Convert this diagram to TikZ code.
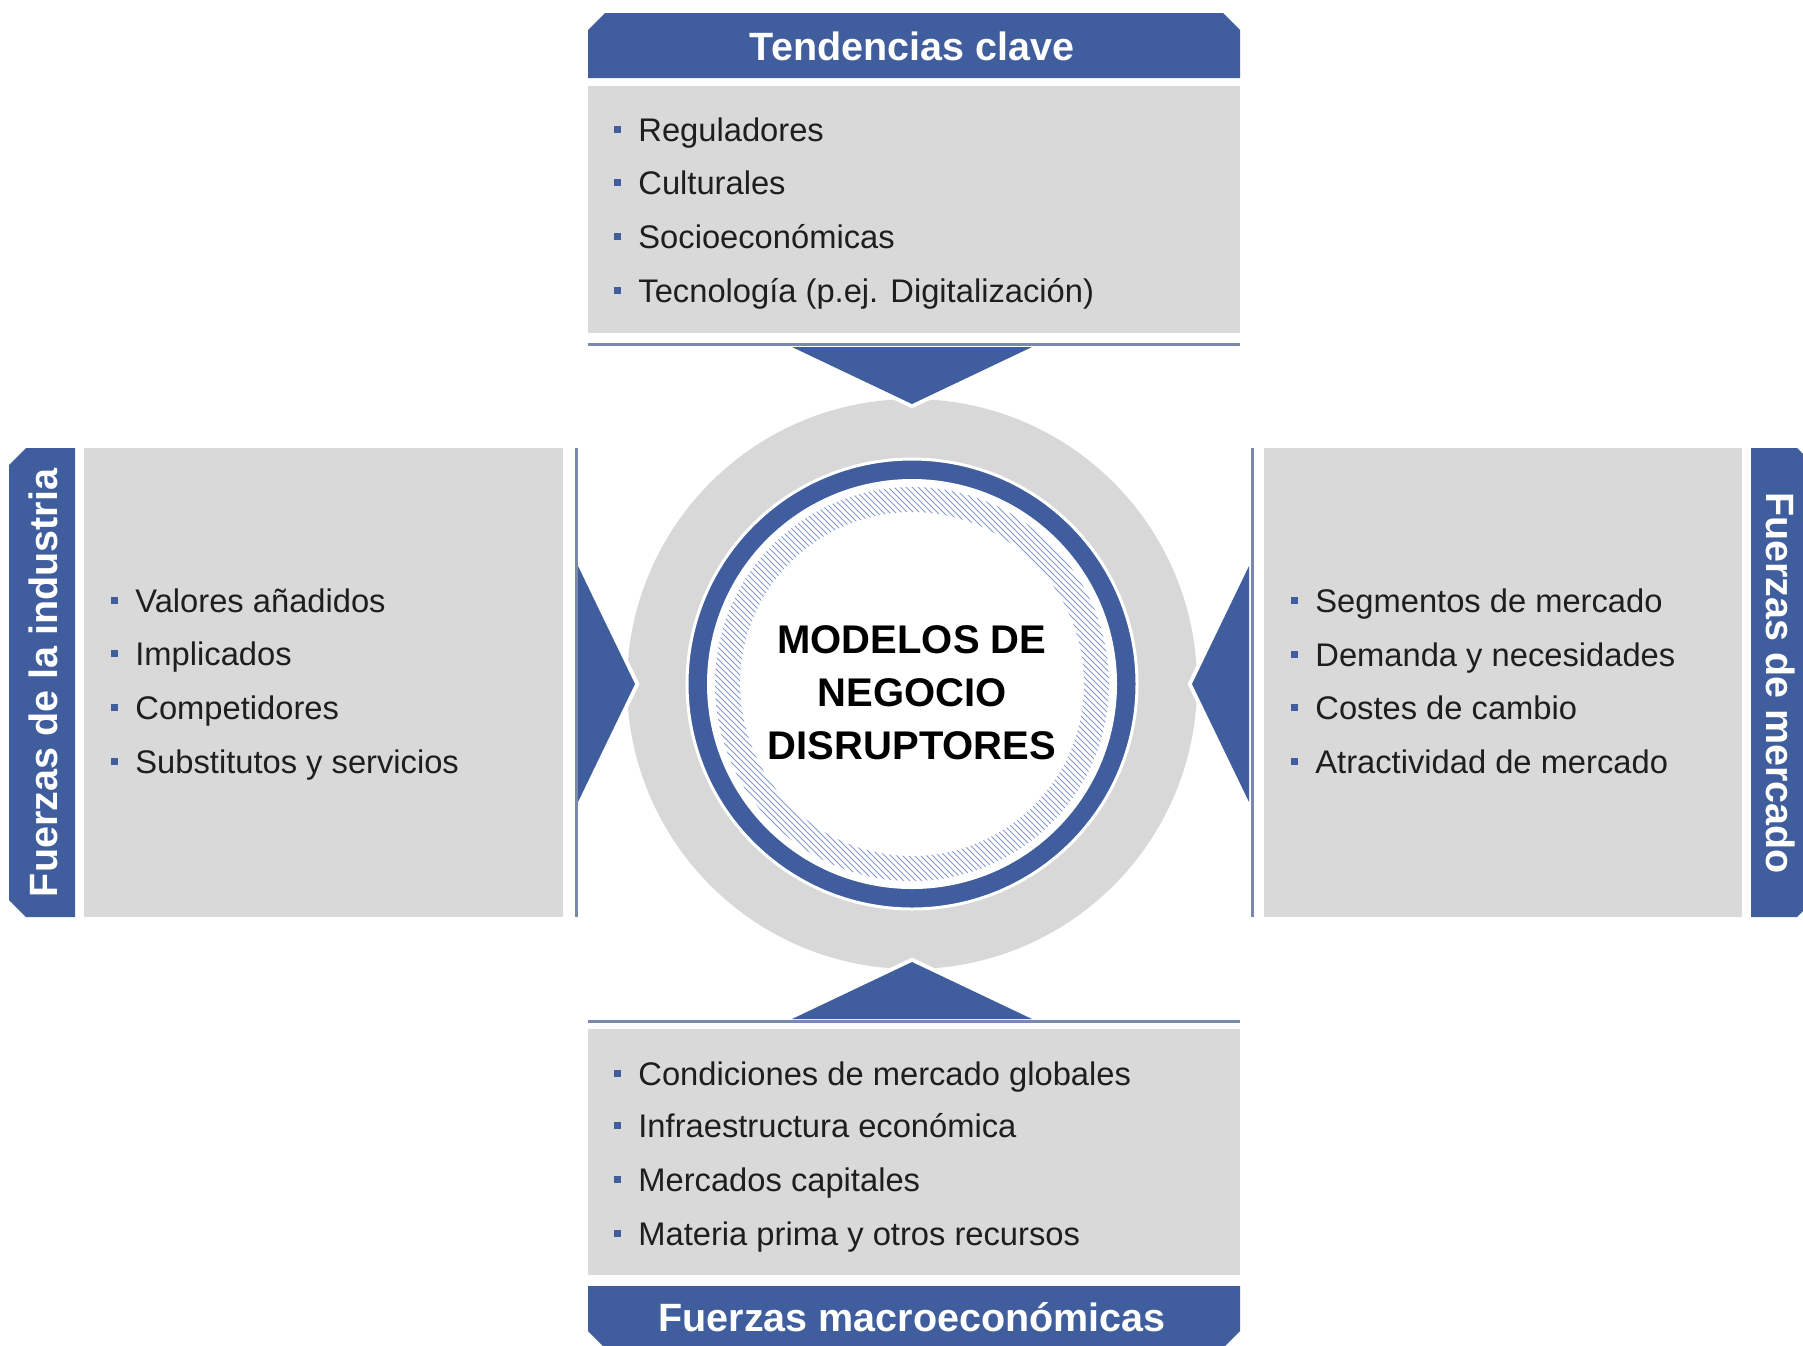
\documentclass[tikz,border=0pt]{standalone}
\usepackage{fontspec}
\setmainfont{Liberation Sans}
\usetikzlibrary{patterns}

\definecolor{headblue}{RGB}{64,94,158}
\definecolor{boxgray}{RGB}{217,217,217}
\definecolor{ringgray}{RGB}{216,216,216}
\definecolor{rimline}{RGB}{122,136,172}
\definecolor{hatchblue}{RGB}{132,155,204}
\definecolor{textgray}{RGB}{30,30,30}

\newcommand{\bul}{\textcolor{headblue}{\rule[3.8pt]{3.5pt}{3.5pt}}\hspace{8.5pt}}

\begin{document}
\begin{tikzpicture}[x=0.5pt, y=-0.5pt,
    listitem/.style={anchor=base west, inner sep=0pt, text=textgray,
      font=\fontsize{16.35}{20}\selectfont},
    headtext/.style={anchor=base, inner sep=0pt, text=white,
      font=\bfseries\fontsize{19.75}{24}\selectfont},
    panel/.style={fill=boxgray},
    tab/.style={fill=headblue},
    rim/.style={draw=rimline, line width=1.5pt},
    pointer/.style={fill=headblue, preaction={draw=white, line width=4pt}}]
    \useasboundingbox (0, 0) rectangle (1803, 1345);

    \fill[panel] (588, 86) rectangle (1240, 333);
    \fill[panel] (588, 1029) rectangle (1240, 1275);
    \fill[panel] (84, 448) rectangle (563, 917);
    \fill[panel] (1264, 448) rectangle (1742, 917);

    \fill[tab] (588, 78) -- (588, 30) -- (605, 13) -- (1223, 13) -- (1240, 30)
      -- (1240, 78) -- cycle;
    \fill[tab] (588, 1286) -- (1240, 1286) -- (1240, 1331) -- (1223, 1348)
      -- (605, 1348) -- (588, 1331) -- cycle;
    \fill[tab] (75, 448) -- (26, 448) -- (9, 465) -- (9, 900) -- (26, 917)
      -- (75, 917) -- cycle;
    \fill[tab] (1751, 448) -- (1797, 448) -- (1814, 465) -- (1814, 900)
      -- (1797, 917) -- (1751, 917) -- cycle;

    \fill[ringgray] (912, 684) circle (285);
    \draw[fill=headblue, draw=white, line width=1.5pt] (912, 684) circle (225);
    \fill[white] (912, 684) circle (205);
    \fill[pattern=north west lines, pattern color=hatchblue, even odd rule]
      (912, 684) circle (197) (912, 684) circle (172);

    \path[pointer] (792, 347) -- (1032, 347) -- (912, 404) -- cycle;
    \path[pointer] (792, 1019) -- (1032, 1019) -- (912, 962) -- cycle;
    \path[pointer] (578, 566) -- (578, 802) -- (635, 684) -- cycle;
    \path[pointer] (1249, 566) -- (1249, 802) -- (1192, 684) -- cycle;

    \draw[rim] (588, 344) -- (1240, 344);
    \draw[rim] (588, 1021) -- (1240, 1021);
    \draw[rim] (576, 448) -- (576, 917);
    \draw[rim] (1252, 448) -- (1252, 917);

    \node[headtext] (tend) at (912, 60) {Tendencias clave};
    \node[headtext] (macro) at (912, 1331) {Fuerzas macroeconómicas};
    \node[headtext, rotate=90] (indus) at (57, 683) {Fuerzas de la industria};
    \node[headtext, rotate=-90] (merc) at (1766, 683) {Fuerzas de mercado};

    \node[align=center, inner sep=0pt, text=black,
      font=\bfseries\fontsize{20}{26.5}\selectfont] (core) at (912, 693)
      {MODELOS DE\\NEGOCIO\\DISRUPTORES};

    \node[listitem] (t1) at (614, 141) {\bul Reguladores};
    \node[listitem] (t2) at (614, 194) {\bul Culturales};
    \node[listitem] (t3) at (614, 248) {\bul Socioeconómicas};
    \node[listitem] (t4) at (614, 302) {\bul Tecnología (p.ej. Digitalización)};

    \node[listitem] (l1) at (111, 612) {\bul Valores añadidos};
    \node[listitem] (l2) at (111, 665) {\bul Implicados};
    \node[listitem] (l3) at (111, 719) {\bul Competidores};
    \node[listitem] (l4) at (111, 773) {\bul Substitutos y servicios};

    \node[listitem] (r1) at (1291, 612) {\bul Segmentos de mercado};
    \node[listitem] (r2) at (1291, 666) {\bul Demanda y necesidades};
    \node[listitem] (r3) at (1291, 719) {\bul Costes de cambio};
    \node[listitem] (r4) at (1291, 773) {\bul Atractividad de mercado};

    \node[listitem] (b1) at (614, 1085) {\bul Condiciones de mercado globales};
    \node[listitem] (b2) at (614, 1137) {\bul Infraestructura económica};
    \node[listitem] (b3) at (614, 1191) {\bul Mercados capitales};
    \node[listitem] (b4) at (614, 1245) {\bul Materia prima y otros recursos};
  \end{tikzpicture}
\end{document}
